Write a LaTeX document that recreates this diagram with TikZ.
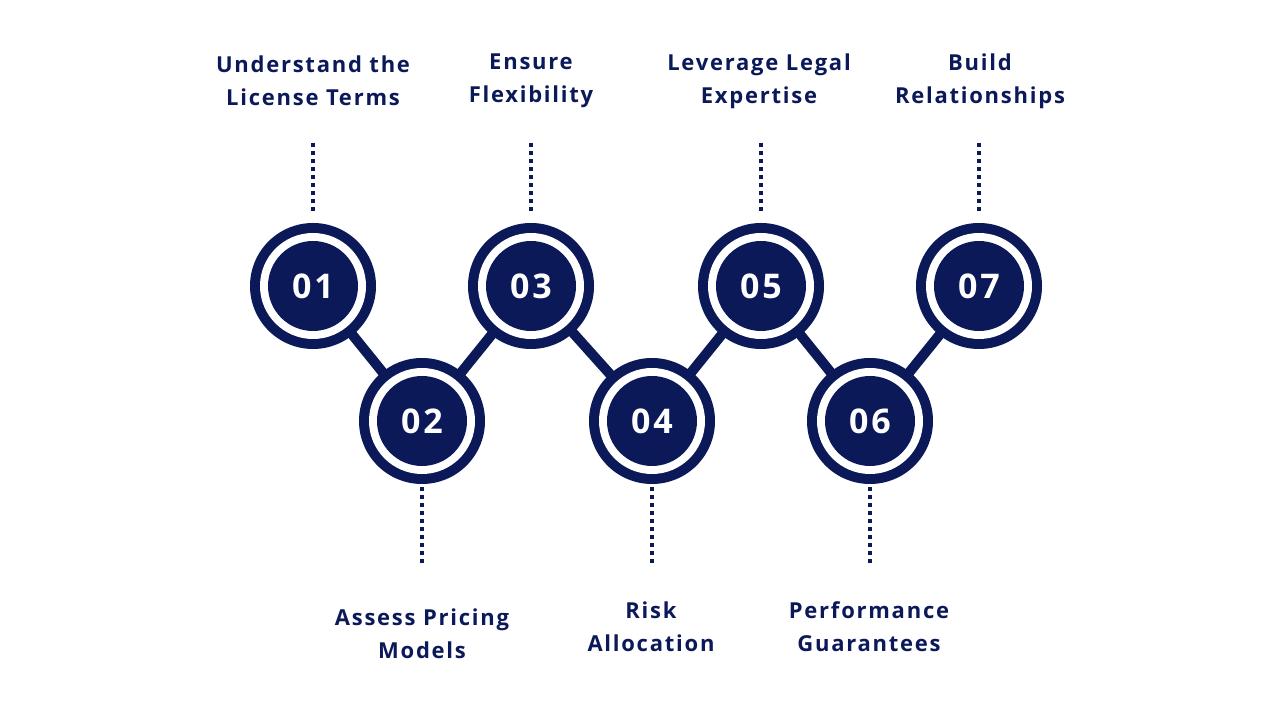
\documentclass[tikz,border=0pt]{standalone}
\usepackage{fontspec}
\setmainfont{Open Sans}[LetterSpace=8]
\definecolor{navy}{HTML}{0B1958}
\begin{document}
\begin{tikzpicture}[x=1pt,y=1pt,
  outer/.style={circle,fill=navy,minimum size=126pt,inner sep=0pt},
  ring/.style={circle,fill=white,minimum size=106pt,inner sep=0pt},
  core/.style={circle,fill=navy,minimum size=90pt,inner sep=0pt,text=white,font=\fontsize{34}{34}\selectfont\bfseries},
  lbl/.style={text=navy,align=center,font=\fontsize{22}{33}\selectfont\bfseries},
  dots/.style={navy,line width=4pt,dash pattern=on 4pt off 4pt},
  link/.style={navy,line width=10pt}]
\useasboundingbox (0,0) rectangle (1280,720);
\coordinate (c1) at (313,434);
\coordinate (c2) at (422,299);
\coordinate (c3) at (531,434);
\coordinate (c4) at (652,299);
\coordinate (c5) at (761,434);
\coordinate (c6) at (870,299);
\coordinate (c7) at (979,434);
\draw[link] (c1)--(c2)--(c3)--(c4)--(c5)--(c6)--(c7);
\foreach \i in {1,...,7}{
  \node[outer] (o\i) at (c\i) {};
  \node[ring] at (c\i) {};
  \node[core] (n\i) at (c\i) {0\i};
}
\foreach \i/\x in {1/313,3/531,5/761,7/979}{
  \coordinate (t\i) at (\x,577);
  \draw[dots] (t\i) -- ([yshift=10pt]o\i.north);
}
\foreach \i/\x in {2/422,4/652,6/870}{
  \coordinate (b\i) at (\x,157);
  \draw[dots] ([yshift=-3pt]o\i.south) -- (b\i);
}
\node[lbl] (l1) at (313,639) {Understand the\\License Terms};
\node[lbl] (l3) at (531,639) {Ensure\\Flexibility};
\node[lbl] (l5) at (759,639) {Leverage Legal\\Expertise};
\node[lbl] (l7) at (980,639) {Build\\Relationships};
\node[lbl] (l2) at (422,86) {Assess Pricing\\Models};
\node[lbl] (l4) at (651,93) {Risk\\Allocation};
\node[lbl] (l6) at (869,93) {Performance\\Guarantees};
\end{tikzpicture}
\end{document}
